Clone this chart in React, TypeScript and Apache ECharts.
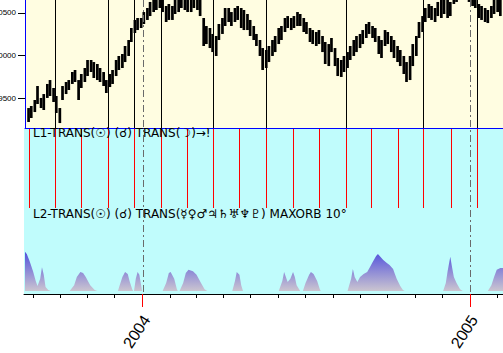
import React, { useEffect, useRef } from 'react';
import * as echarts from 'echarts';

// ---------- data ----------
const X_START = '2003-08-22';
const X_END = '2005-02-07';
const PRICE_FIRST_MONDAY = '2003-08-25'; // bars sampled on Tue & Fri of each week

const priceHigh = [
  9384, 9408, 9478, 9642, 9502, 9548, 9666, 9712, 9619, 9525,
  9384, 9642, 9689, 9712, 9806, 9830, 9712, 9783, 9853, 9947,
  9947, 9923, 9900, 9853, 9806, 9712, 9783, 9830, 9947, 9994,
  10017, 10111, 10181, 10322, 10416, 10439, 10439, 10509, 10556, 10627,
  10709, 10697, 10720, 10673, 10580, 10603, 10580, 10650, 10697, 10720,
  10709, 10697, 10673, 10720, 10697, 10650, 10439, 10345, 10322, 10252,
  10228, 10369, 10439, 10556, 10556, 10509, 10556, 10580, 10556, 10533,
  10486, 10416, 10345, 10252, 10181, 10087, 10064, 10111, 10181, 10228,
  10322, 10345, 10439, 10462, 10439, 10462, 10509, 10486, 10439, 10392,
  10322, 10298, 10275, 10298, 10228, 10158, 10134, 10205, 10087, 9970,
  9947, 9994, 10040, 10111, 10181, 10228, 10252, 10298, 10369, 10392,
  10345, 10322, 10228, 10181, 10298, 10275, 10228, 10181, 10111, 10064,
  9994, 9923, 9994, 10134, 10228, 10392, 10462, 10556, 10603, 10580,
  10556, 10627, 10673, 10650, 10673, 10627, 10720, 10744, 10791, 10767,
  10814, 10744, 10697, 10673, 10603, 10580, 10556, 10533, 10580, 10650,
  10673, 10650,
];
const priceLow = [
  9220, 9267, 9337, 9431, 9384, 9361, 9502, 9525, 9455, 9326,
  9208, 9478, 9548, 9595, 9666, 9689, 9478, 9619, 9689, 9759,
  9806, 9736, 9712, 9689, 9642, 9560, 9630, 9666, 9759, 9830,
  9853, 9923, 9994, 10158, 10263, 10298, 10322, 10369, 10416, 10462,
  10509, 10533, 10556, 10509, 10392, 10416, 10416, 10486, 10509, 10556,
  10533, 10509, 10509, 10556, 10533, 10462, 10111, 10134, 10087, 10040,
  9994, 10181, 10252, 10345, 10392, 10345, 10392, 10416, 10322, 10298,
  10298, 10228, 10181, 10111, 9994, 9830, 9853, 9923, 9994, 10040,
  10134, 10181, 10275, 10322, 10298, 10322, 10345, 10345, 10275, 10252,
  10158, 10134, 10111, 10134, 10040, 9900, 9876, 10040, 9876, 9759,
  9748, 9806, 9853, 9947, 9994, 10040, 10087, 10134, 10205, 10252,
  10205, 10158, 10017, 9970, 10111, 10134, 10040, 9970, 9923, 9876,
  9783, 9689, 9712, 9876, 9994, 10205, 10275, 10392, 10439, 10416,
  10392, 10462, 10439, 10486, 10439, 10462, 10603, 10627, 10673, 10650,
  10697, 10627, 10580, 10556, 10439, 10416, 10392, 10380, 10439, 10486,
  10509, 10462,
];
const priceTicks = [9500, 10000, 10500];

const newMoons = [
  '2003-08-26', '2003-09-25', '2003-10-24', '2003-11-23', '2003-12-22',
  '2004-01-21', '2004-02-19', '2004-03-19', '2004-04-17', '2004-05-18',
  '2004-06-17', '2004-07-16', '2004-08-15', '2004-09-12', '2004-10-12',
  '2004-11-10', '2004-12-11', '2005-01-09',
];
const hitDates = [
  '2003-09-25', '2003-11-23', '2003-12-22', '2004-01-21', '2004-03-19',
  '2004-05-18', '2004-08-15', '2004-11-10', '2005-01-09',
];
const yearStarts = ['2004-01-01', '2005-01-01'];
const monthStarts = [
  '2003-09-01', '2003-10-01', '2003-11-01', '2003-12-01', '2004-02-01',
  '2004-03-01', '2004-04-01', '2004-05-01', '2004-06-01', '2004-07-01',
  '2004-08-01', '2004-09-01', '2004-10-01', '2004-11-01', '2004-12-01',
  '2005-02-01',
];

const orbDates = [
  '2003-08-22', '2003-08-24', '2003-08-27', '2003-08-31', '2003-09-03', '2003-09-05', '2003-09-08', '2003-09-10', '2003-09-12', '2003-09-14', '2003-09-17', '2003-09-20',
  '2003-10-11', '2003-10-16', '2003-10-19', '2003-10-23', '2003-10-26', '2003-10-29', '2003-11-03', '2003-11-08', '2003-11-11',
  '2003-12-04', '2003-12-06', '2003-12-09', '2003-12-12', '2003-12-15', '2003-12-17', '2003-12-20', '2003-12-21',
  '2003-12-22', '2003-12-24', '2003-12-26', '2003-12-28', '2003-12-30', '2003-12-31',
  '2004-01-23', '2004-01-27', '2004-01-30', '2004-02-01', '2004-02-05', '2004-02-08', '2004-02-09',
  '2004-02-11', '2004-02-15', '2004-02-18', '2004-02-21', '2004-02-26', '2004-03-01', '2004-03-06', '2004-03-10', '2004-03-13',
  '2004-04-10', '2004-04-13', '2004-04-15', '2004-04-18', '2004-04-20', '2004-04-22',
  '2004-06-01', '2004-06-05', '2004-06-07', '2004-06-09', '2004-06-11', '2004-06-14', '2004-06-17', '2004-06-19', '2004-06-21', '2004-06-25',
  '2004-06-28', '2004-07-01', '2004-07-05', '2004-07-07', '2004-07-10', '2004-07-14', '2004-07-17', '2004-07-18',
  '2004-08-17', '2004-08-21', '2004-08-23', '2004-08-25', '2004-08-28', '2004-08-31', '2004-09-04', '2004-09-08', '2004-09-11', '2004-09-14', '2004-09-18', '2004-09-20', '2004-09-22', '2004-09-26', '2004-09-30', '2004-10-03', '2004-10-07', '2004-10-09', '2004-10-11', '2004-10-15', '2004-10-18', '2004-10-20',
  '2004-12-02', '2004-12-05', '2004-12-07', '2004-12-10', '2004-12-12', '2004-12-14', '2004-12-17', '2004-12-21', '2004-12-24',
  '2005-01-21', '2005-01-25', '2005-01-28', '2005-01-31', '2005-02-04', '2005-02-07', '2005-02-10',
];
const orbStrength = [
  8.7, 8.2, 6.7, 4.4, 2.2, 1.1, 2.7, 5.3, 3.6, 0.9, 0.2, 0,
  0, 1.3, 3.1, 4.2, 4.0, 3.1, 1.3, 0.2, 0,
  0, 1.3, 3.1, 4.2, 3.8, 2.2, 0.4, 0,
  0, 2.7, 4.2, 3.6, 1.3, 0,
  0, 1.8, 4.0, 4.2, 2.7, 0.4, 0,
  0, 1.8, 4.0, 4.7, 4.4, 3.6, 1.8, 0.4, 0,
  0, 2.2, 4.2, 3.6, 1.3, 0,
  0, 2.2, 4.2, 3.1, 2.0, 2.7, 4.2, 3.1, 1.3, 0,
  0, 1.8, 3.6, 4.2, 3.8, 2.2, 0.4, 0,
  0, 2.7, 4.9, 3.1, 2.0, 3.1, 3.8, 4.2, 5.3, 6.4, 7.8, 8.2, 7.8, 6.9, 6.2, 5.8, 4.9, 3.8, 2.7, 1.1, 0.2, 0,
  0, 1.8, 4.4, 7.6, 5.3, 3.1, 1.8, 0.4, 0,
  0, 1.3, 3.1, 4.7, 5.1, 5.1, 5.0,
];

const L1_TEXT = 'L1-TRANS(☉) (☌) TRANS(☽)→!';
const L2_TEXT = 'L2-TRANS(☉) (☌) TRANS(☿♀♂♃♄♅♆♇) MAXORB 10°';

// ---------- helpers ----------
function ts(s: string): number {
  const [y, m, d] = s.split('-').map(Number);
  return new Date(y, m - 1, d).getTime();
}
function sampleDates(firstMonday: string, count: number): number[] {
  const base = new Date(ts(firstMonday));
  const out: number[] = [];
  for (let i = 0; i < count; i++) {
    const d = new Date(base.getTime());
    d.setDate(d.getDate() + Math.floor(i / 2) * 7 + (i % 2 === 0 ? 1 : 4));
    out.push(d.getTime());
  }
  return out;
}

const FONT = '"Liberation Sans", Arial, "DejaVu Sans", sans-serif';
const SYM_FONT = '"DejaVu Sans", "Liberation Sans", sans-serif';

export default function App() {
  const ref = useRef<HTMLDivElement>(null);
  useEffect(() => {
    document.body.style.margin = '0';
    if (!ref.current) return;
    const chart = echarts.init(ref.current, undefined, { renderer: 'svg' });
    const xMin = ts(X_START);
    const xMax = ts(X_END);
    const priceDates = sampleDates(PRICE_FIRST_MONDAY, priceHigh.length);

    const hiddenX = (gridIndex: number) => ({
      type: 'value', gridIndex, min: xMin, max: xMax,
      axisLine: { show: false }, axisTick: { show: false }, axisLabel: { show: false }, splitLine: { show: false },
    });
    const hiddenY = (gridIndex: number, min: number, max: number) => ({
      type: 'value', gridIndex, min, max,
      axisLine: { show: false }, axisTick: { show: false }, axisLabel: { show: false }, splitLine: { show: false },
    });
    const vline = (color: string, dash?: number[]) => (params: any, api: any) => {
      const cs = params.coordSys;
      const x = Math.round(api.coord([api.value(0), 0])[0]) + 0.5;
      return {
        type: 'line',
        shape: { x1: x, y1: cs.y, x2: x, y2: cs.y + cs.height },
        style: { stroke: color, lineWidth: 1, lineDash: dash },
      };
    };
    const gridBase = { outerBoundsMode: 'none', containLabel: false };

    chart.setOption({
      animation: false,
      grid: [
        { ...gridBase, left: 25, top: 0, width: 478, height: 128, show: true, backgroundColor: '#fffde1', borderWidth: 0 },
        { ...gridBase, left: 24, top: 129, width: 479, height: 165, show: true, backgroundColor: '#c0fcfc', borderWidth: 0 },
        { ...gridBase, left: 25, top: 129, width: 478, height: 79 },
        { ...gridBase, left: 25, top: 246, width: 478, height: 45 },
        { ...gridBase, left: 25, top: 0, width: 478, height: 294 },
      ],
      xAxis: [
        {
          type: 'value', gridIndex: 0, position: 'bottom', min: xMin, max: xMax,
          axisLine: { show: true, lineStyle: { color: '#0000ff', width: 1 } },
          axisTick: { show: false }, axisLabel: { show: false }, splitLine: { show: false },
        },
        {
          type: 'value', gridIndex: 1, position: 'bottom', min: xMin, max: xMax,
          axisLine: { show: true, lineStyle: { color: '#000', width: 1 } },
          axisTick: { show: true, customValues: monthStarts.map(ts), length: 4, lineStyle: { color: '#000' } },
          axisLabel: {
            show: true, customValues: yearStarts.map(ts), rotate: 57, margin: 20,
            verticalAlign: 'top', lineHeight: 10,
            fontSize: 16, fontFamily: FONT, color: '#000',
            formatter: (v: number) => String(new Date(v).getFullYear()),
          },
          splitLine: { show: false },
        },
        {
          type: 'value', gridIndex: 1, position: 'bottom', offset: 0, min: xMin, max: xMax,
          axisLine: { show: false },
          axisTick: { show: true, customValues: yearStarts.map(ts), length: 13, lineStyle: { color: '#ff0000' } },
          axisLabel: { show: false }, splitLine: { show: false },
        },
        hiddenX(2),
        hiddenX(3),
        hiddenX(4),
      ],
      yAxis: [
        {
          type: 'value', gridIndex: 0, min: 9150, max: 10650,
          axisLine: { show: true, lineStyle: { color: '#0000ff', width: 1 } },
          axisTick: { show: true, customValues: priceTicks, length: 7, lineStyle: { color: '#000' } },
          axisLabel: {
            show: true, customValues: priceTicks, fontSize: 8, fontFamily: FONT, color: '#000', margin: 9,
            formatter: (v: number) => String(v),
          },
          splitLine: { show: false },
        },
        hiddenY(1, 0, 1),
        hiddenY(2, 0, 1),
        hiddenY(3, 0, 10),
        hiddenY(4, 0, 1),
      ],
      series: [
        {
          type: 'custom', xAxisIndex: 0, yAxisIndex: 0, clip: true,
          data: priceDates.map((d, i) => [d, priceLow[i], priceHigh[i]]),
          encode: { x: 0, y: [1, 2] },
          renderItem: (params: any, api: any) => {
            const lo = api.coord([api.value(0), api.value(1)]);
            const hi = api.coord([api.value(0), api.value(2)]);
            return {
              type: 'line',
              shape: { x1: lo[0], y1: lo[1], x2: hi[0], y2: hi[1] },
              style: { stroke: '#000', lineWidth: 2.7 },
            };
          },
        },
        {
          type: 'custom', xAxisIndex: 0, yAxisIndex: 0,
          data: hitDates.map((d) => [ts(d), 10000]),
          encode: { x: 0, y: 1 },
          renderItem: vline('#000'),
        },
        {
          type: 'custom', xAxisIndex: 3, yAxisIndex: 2,
          data: newMoons.map((d) => [ts(d), 0.5]),
          encode: { x: 0, y: 1 },
          renderItem: vline('#ff0000'),
        },
        {
          type: 'line', xAxisIndex: 4, yAxisIndex: 3,
          data: orbDates.map((d, i) => [ts(d), orbStrength[i]]),
          symbol: 'none', silent: true,
          lineStyle: { width: 0, opacity: 0 },
          areaStyle: {
            opacity: 1,
            color: new echarts.graphic.LinearGradient(0, 0, 0, 1, [
              { offset: 0, color: '#5252dc' },
              { offset: 1, color: '#cbc5d0' },
            ]),
          },
        },
        {
          type: 'custom', xAxisIndex: 5, yAxisIndex: 4,
          data: yearStarts.map((d) => [ts(d), 0.5]),
          encode: { x: 0, y: 1 },
          renderItem: vline('#6a6a6a', [7, 3, 2, 3]),
        },
      ],
      graphic: [
        { type: 'text', left: 33, top: 127, z: 10, style: { text: L1_TEXT, font: `12px ${SYM_FONT}`, fill: '#000' } },
        { type: 'text', left: 33, top: 208, z: 10, style: { text: L2_TEXT, font: `12px ${SYM_FONT}`, fill: '#000' } },
      ],
    });
    return () => chart.dispose();
  }, []);
  return <div ref={ref} style={{ width: 503, height: 353 }} />;
}
